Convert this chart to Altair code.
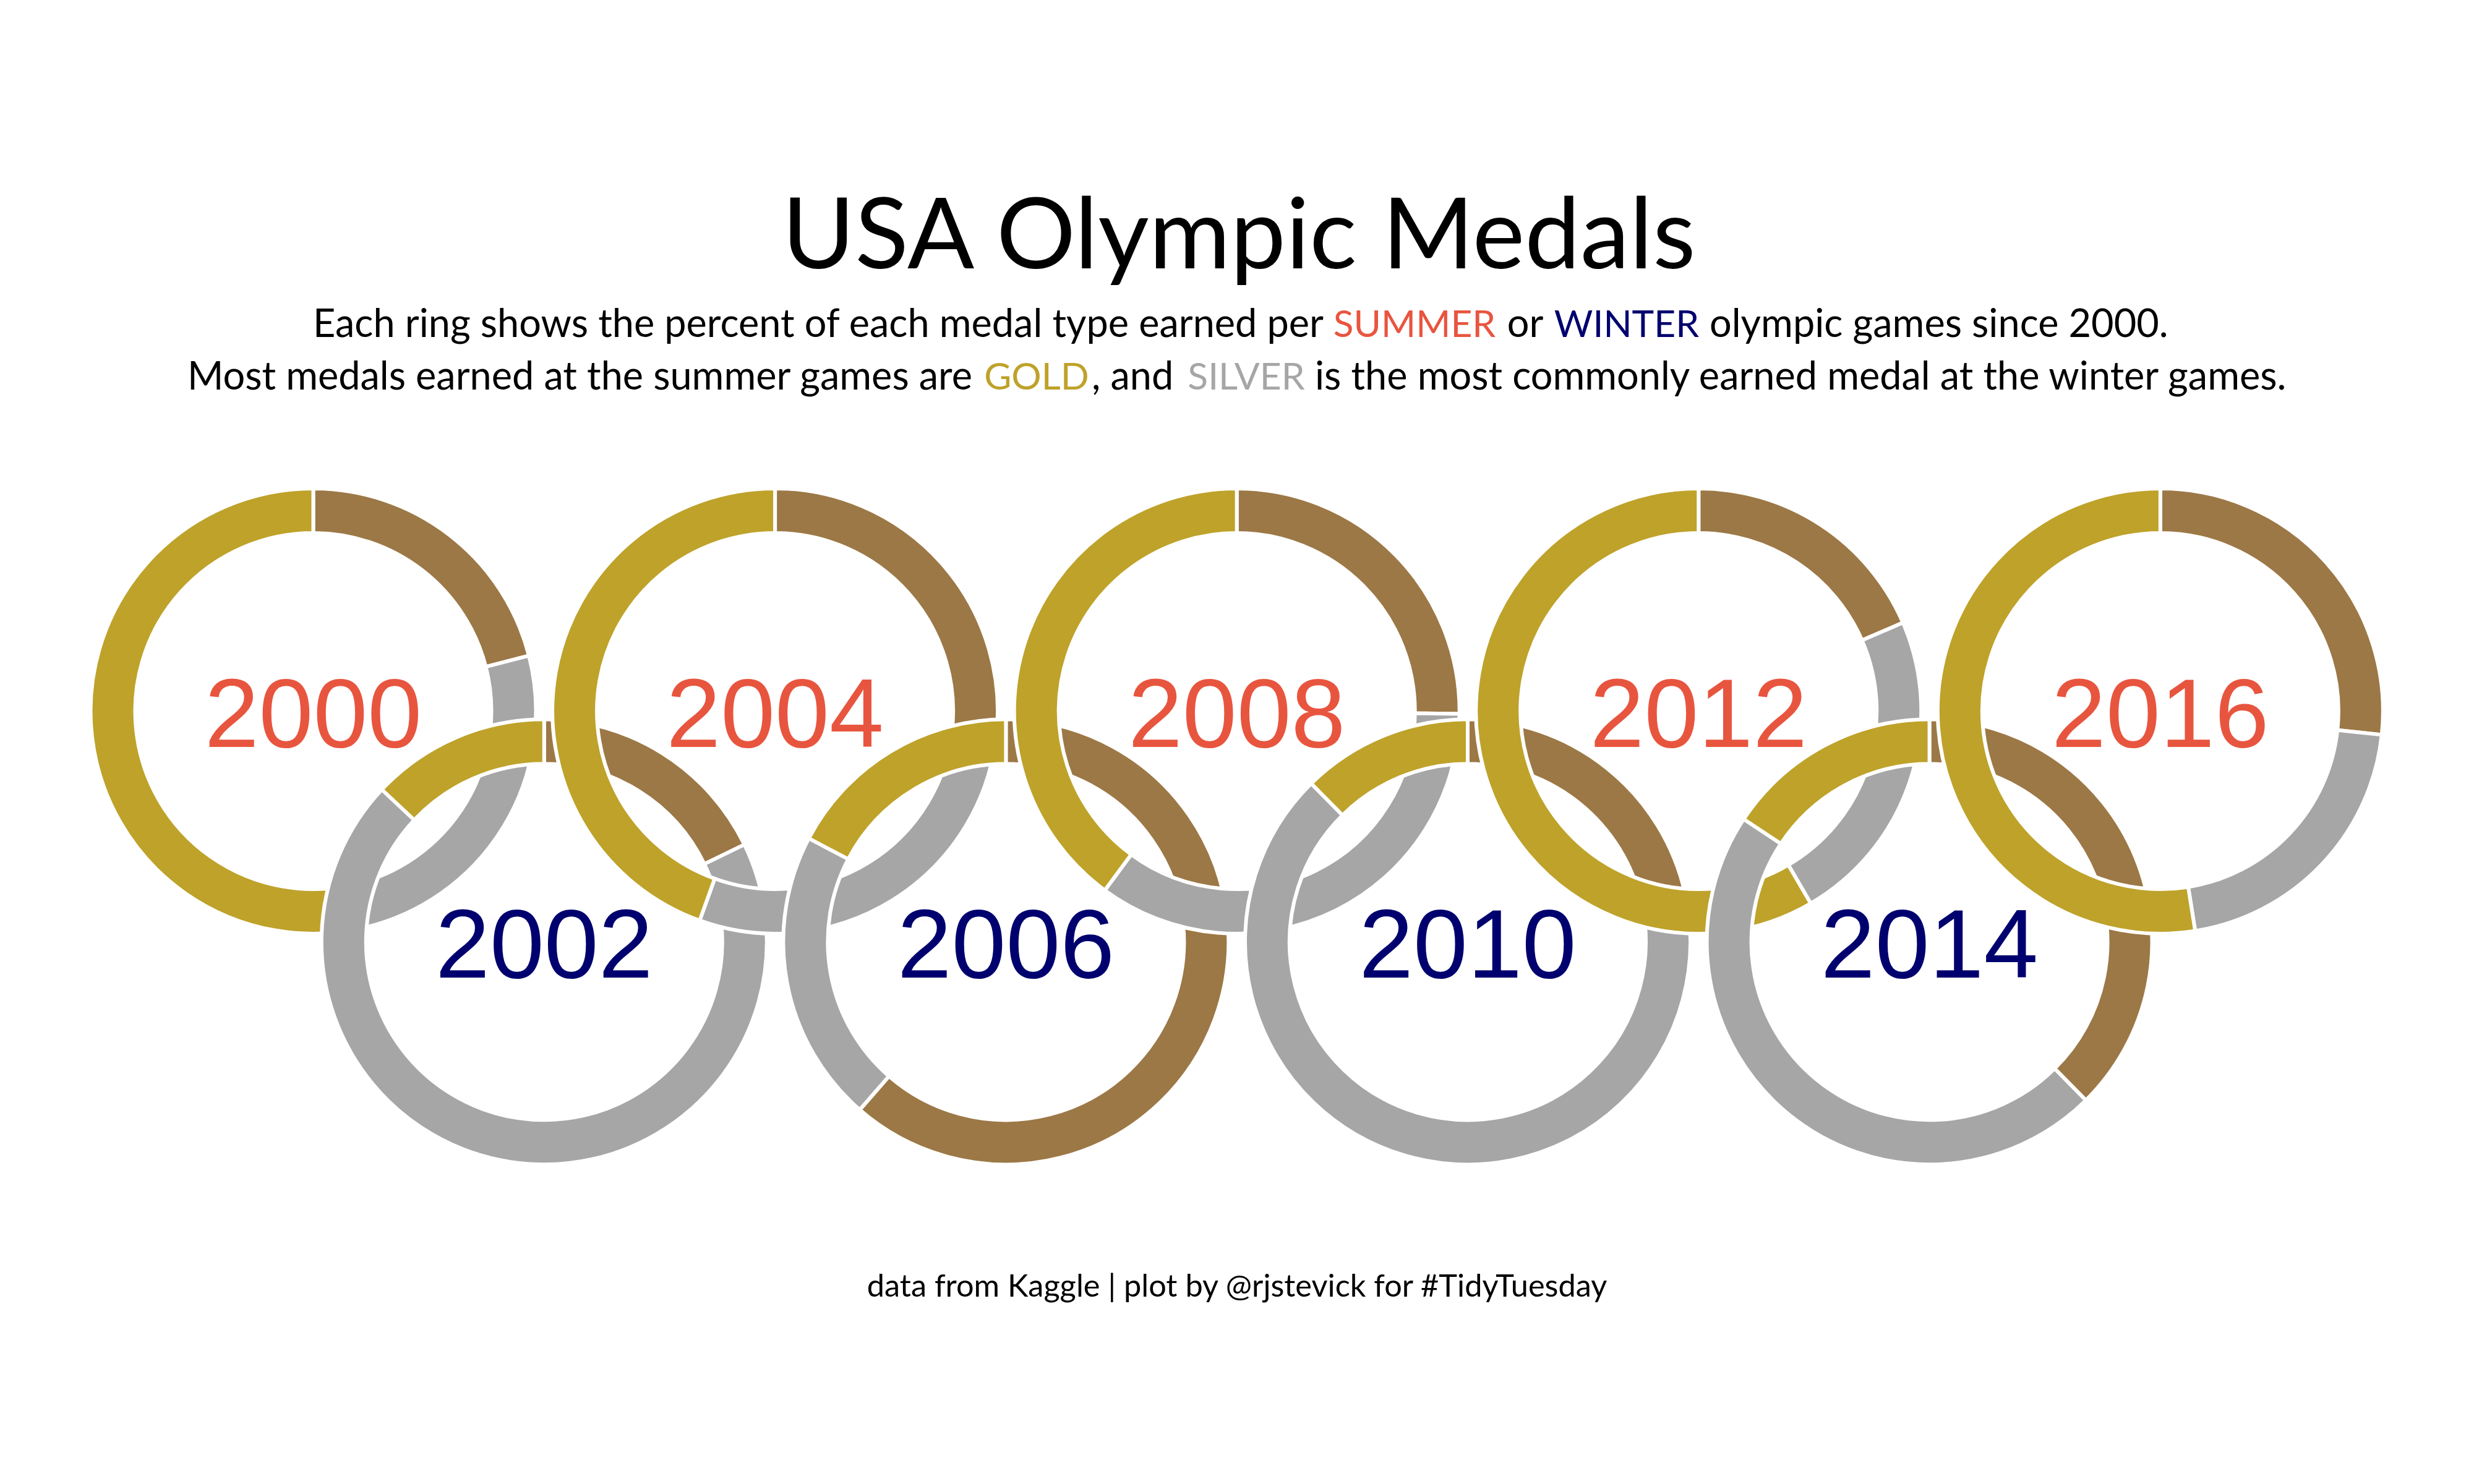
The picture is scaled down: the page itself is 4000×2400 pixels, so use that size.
import math
import pandas as pd
import altair as alt

# ---------------- data ----------------
years = [2000, 2002, 2004, 2006, 2008, 2010, 2012, 2014, 2016]
seasons = ["Summer", "Winter", "Summer", "Winter", "Summer", "Winter", "Summer", "Winter", "Summer"]
# percent of each medal type per games (clockwise from 12 o'clock: bronze, silver, gold)
bronze_pct = [21.0, 17.8, 26.9, 61.4, 25.2, 21.5, 18.5, 37.6, 26.7]
silver_pct = [25.3, 69.2, 28.6, 21.3, 34.9, 66.1, 23.1, 46.7, 20.8]
gold_pct = [53.7, 13.0, 44.5, 17.3, 39.9, 12.4, 58.4, 15.7, 52.5]

medals = ["Bronze", "Silver", "Gold"]
medal_colors = ["#9C7846", "#A6A6A6", "#BEA22A"]
season_names = ["Summer", "Winter"]
season_colors = ["#E8553F", "#00006E"]

title_text = "USA Olympic Medals"
line1 = ["Each ring shows the percent of each medal type earned per", "SUMMER", "or", "WINTER",
         "olympic games since 2000."]
line2 = ["Most medals earned at the summer games are", "GOLD", ", and", "SILVER",
         "is the most commonly earned medal at the winter games."]
caption_text = "data from Kaggle | plot by @rjstevick for #TidyTuesday"

# ---------------- build table ----------------
records = []
for i, yr in enumerate(years):
    start = 0.0
    for m, p in zip(medals, (bronze_pct[i], silver_pct[i], gold_pct[i])):
        records.append({
            "year": str(yr), "season": seasons[i], "col": i,
            "row": 0 if seasons[i] == "Summer" else 1,
            "medal": m, "pct": p, "start": start, "end": start + p,
        })
        start += p
df = pd.DataFrame(records)
labels = df.drop_duplicates("year")[["year", "season", "col", "row"]].copy()
labels["tcolor"] = labels["season"].map(dict(zip(season_names, season_colors)))

W, H = 4000, 2400
xs = alt.Scale(domain=[-1.3568, 9.3585], nice=False, zero=False)
ys = alt.Scale(domain=[-3.0806, 3.3486], nice=False, zero=False, reverse=True)
ts = alt.Scale(domain=[0, 100], range=[0, 2 * math.pi])

rings = alt.Chart(df).mark_arc(radius=360, radius2=288, stroke="white", strokeWidth=6).encode(
    x=alt.X("col:Q", scale=xs, axis=None),
    y=alt.Y("row:Q", scale=ys, axis=None),
    theta=alt.Theta("start:Q", scale=ts),
    theta2="end:Q",
    color=alt.Color("medal:N", scale=alt.Scale(domain=medals, range=medal_colors), legend=None),
)

year_text = alt.Chart(labels).mark_text(
    font="Liberation Sans", fontSize=158, align="center", baseline="alphabetic", dy=58
).encode(
    x=alt.X("col:Q", scale=xs, axis=None),
    y=alt.Y("row:Q", scale=ys, axis=None),
    text="year:N",
    color=alt.Color("tcolor:N", scale=None, legend=None),
)

FONT = "Lato"


def txt(s, x, y, size, color="black", align="left"):
    return alt.Chart(pd.DataFrame({"t": [s]})).mark_text(
        font=FONT, fontSize=size, align=align, baseline="alphabetic", color=color
    ).encode(x=alt.value(x), y=alt.value(y), text="t:N")


sub_size = 63
cw_size = 60.5
texts = [
    txt(title_text, 2003, 434, 160, align="center"),
    txt(line1[0], 2140, 545, sub_size, align="right"),
    txt(line1[1], 2287, 545, cw_size, color=season_colors[0], align="center"),
    txt(line1[2], 2466, 545, sub_size, align="center"),
    txt(line1[3], 2630, 545, cw_size, color=season_colors[1], align="center"),
    txt(line1[4], 2764, 545, sub_size, align="left"),
    txt(line2[0], 1572, 630, sub_size, align="right"),
    txt(line2[1], 1676, 630, cw_size, color=medal_colors[2], align="center"),
    txt(line2[2], 1765, 630, sub_size, align="left"),
    txt(line2[3], 2015, 630, cw_size, color=medal_colors[1], align="center"),
    txt(line2[4], 2126, 630, sub_size, align="left"),
    txt(caption_text, 2000, 2097, 50.5, align="center"),
]

chart = alt.layer(rings, year_text, *texts).properties(
    width=W, height=H, autosize=alt.AutoSizeParams(type="none"), padding=0, background="white"
).configure_view(stroke=None)

chart.save("out.html", embed_options={"renderer": "svg", "actions": False})
